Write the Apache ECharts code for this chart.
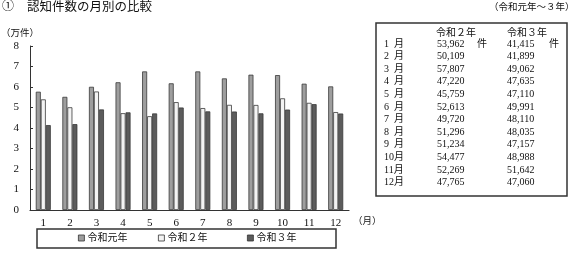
<!DOCTYPE html>
<html><head><meta charset="utf-8">
<script src="https://cdn.jsdelivr.net/npm/echarts@6/dist/echarts.min.js"></script>
<style>html,body{margin:0;padding:0;background:#fff}#c{width:570px;height:256px}</style>
</head><body><div id="c"></div>
<script>
var months = ['1','2','3','4','5','6','7','8','9','10','11','12'];
var rowLabels = ['1\u2002月','2\u2002月','3\u2002月','4\u2002月','5\u2002月','6\u2002月','7\u2002月','8\u2002月','9\u2002月','10月','11月','12月'];
var seriesNames = ['令和元年','令和２年','令和３年'];
var r1Values = [5.77,5.52,6.01,6.23,6.76,6.18,6.76,6.42,6.60,6.58,6.16,6.03];
var r2Counts = [53962,50109,57807,47220,45759,52613,49720,51296,51234,54477,52269,47765];
var r3Counts = [41415,41899,49062,47635,47110,49991,48110,48035,47157,48988,51642,47060];
var yTicks = [0,1,2,3,4,5,6,7,8];

var serif = "'Liberation Serif','Noto Sans CJK JP'";
function fmt(n){return String(n).replace(/\B(?=(\d{3})+(?!\d))/g, ',');}

var chart = echarts.init(document.getElementById('c'));
var colors = ['#9e9e9e','#f3f3f3','#5c5c5c'];
var ink = '#111';
var graphics = [
  {type:'text', left:2, top:1, style:{text:'①', font:'12px '+serif, fill:ink}},
  {type:'text', left:27, top:1, style:{text:'認知件数の月別の比較', font:'12.5px '+serif, fill:ink}},
  {type:'text', left:489, top:3, style:{text:'（令和元年～３年）', font:'9.5px '+serif, fill:ink}},
  {type:'text', left:1, top:29, style:{text:'（万件）', font:'9.5px '+serif, fill:ink}},
  {type:'text', left:353, top:217, style:{text:'（月）', font:'9.5px '+serif, fill:ink}},
  {type:'rect', shape:{x:37, y:229, width:299, height:19}, style:{fill:'none', stroke:'#333', lineWidth:1.5}},
  {type:'rect', shape:{x:376, y:23, width:191, height:173}, style:{fill:'none', stroke:'#333', lineWidth:1.5}},
  {type:'text', left:436, top:28, style:{text:'令和２年', font:'10px '+serif, fill:ink}},
  {type:'text', left:507, top:28, style:{text:'令和３年', font:'10px '+serif, fill:ink}}
];
rowLabels.forEach(function(lab, i){
  var y = 44.5 + 12.6*i - 5.5;
  graphics.push({type:'text', left:384, top:y, style:{text:lab, font:'10px '+serif, fill:ink}});
  graphics.push({type:'text', left:437, top:y, style:{text:fmt(r2Counts[i]), font:'10px '+serif, fill:ink}});
  graphics.push({type:'text', left:507, top:y, style:{text:fmt(r3Counts[i]), font:'10px '+serif, fill:ink}});
});
graphics.push({type:'text', left:477, top:44.5-5.5, style:{text:'件', font:'10px '+serif, fill:ink}});
graphics.push({type:'text', left:549, top:44.5-5.5, style:{text:'件', font:'10px '+serif, fill:ink}});

var legendLefts = [78,158,247];
var legends = seriesNames.map(function(n, i){
  return {data:[n], left:legendLefts[i], top:233, padding:0, itemWidth:6, itemHeight:6, itemGap:4,
    icon:'rect', textStyle:{fontFamily:serif, fontSize:10, color:ink, padding:[0,0,0,-2]},
    itemStyle:{borderColor:'#333', borderWidth:0.8}, selectedMode:false};
});

var vals = [r1Values, r2Counts.map(function(v){return v/10000;}), r3Counts.map(function(v){return v/10000;})];

chart.setOption({
  animation:false,
  color: colors,
  grid:{left:30, right:221, top:46, bottom:46},
  legend: legends,
  graphic: graphics,
  xAxis:{type:'category', data:months, axisTick:{show:false},
    axisLine:{lineStyle:{color:'#333', width:1.2}},
    axisLabel:{fontFamily:serif, fontSize:11, color:ink, margin:8}},
  yAxis:{type:'value', min:yTicks[0], max:yTicks[yTicks.length-1], interval:1, splitLine:{show:false},
    axisLine:{show:true, lineStyle:{color:'#333', width:1}},
    axisTick:{show:true, inside:true, length:3, lineStyle:{color:'#333'}},
    axisLabel:{fontFamily:serif, fontSize:11, color:ink, margin:11}},
  series: seriesNames.map(function(n, i){
    return {name:n, type:'bar', data:vals[i], barWidth:5, barGap:'0%',
      itemStyle:{color:colors[i], borderColor:'#3a3a3a', borderWidth:0.8}};
  })
});
</script></body></html>
